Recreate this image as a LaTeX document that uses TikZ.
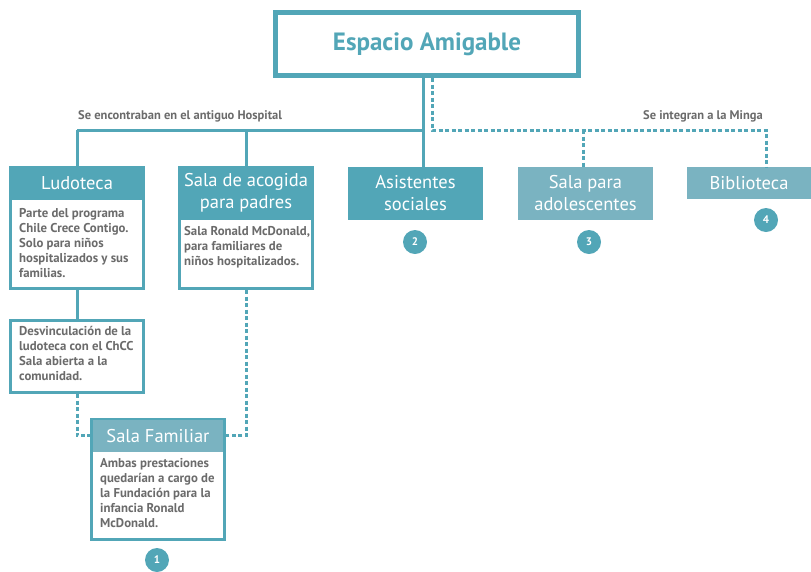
\documentclass[tikz,border=0pt]{standalone}
\usepackage{fontspec}
\setmainfont{PT Sans}
\definecolor{teal1}{HTML}{52A6B7}
\definecolor{teal2}{HTML}{7AB3C1}
\definecolor{txt}{HTML}{6B6B6B}
\begin{document}
\begin{tikzpicture}[x=1pt,y=-1pt,
  frame/.style={draw=teal1, line width=3pt, fill=white, inner sep=0pt},
  head/.style={fill=#1, text=white, inner sep=0pt, align=center, font=\fontsize{18.5}{22}\selectfont},
  body/.style={text=txt, align=left, inner sep=0pt, anchor=north west, font=\bfseries\fontsize{12.8}{15}\selectfont},
  num/.style={circle, fill=teal1, text=white, minimum size=24pt, inner sep=0pt, font=\bfseries\fontsize{11}{11}\selectfont},
  conn/.style={draw=teal1, line width=3pt},
  dconn/.style={conn, dash pattern=on 4pt off 2.5pt},
  lbl/.style={text=txt, inner sep=0pt, font=\bfseries\fontsize{12.5}{14}\selectfont}]
\useasboundingbox (0,0) rectangle (811,571);

% title
\node[frame, line width=5pt, minimum width=303pt, minimum height=63pt, text=teal1,
      font=\bfseries\fontsize{25}{29}\selectfont] (title) at (427,44) {Espacio Amigable};

% junction coordinates
\coordinate (js) at (423,130);
\coordinate (jd) at (432,130);
\coordinate (jm) at (583,130);

% Ludoteca
\node[frame, minimum width=133pt, minimum height=121pt] (ludf) at (77,228) {};
\node[head=teal1, minimum width=136pt, minimum height=34pt] (lud) at (77,183) {Ludoteca};
\node[body] (ludb) at (19,208.5) {Parte del programa\\Chile Crece Contigo.\\Solo para niños\\hospitalizados y sus\\familias.};

% Sala de acogida
\node[frame, minimum width=133pt, minimum height=121pt] (acof) at (246,228) {};
\node[head=teal1, minimum width=136pt, minimum height=54pt] (aco) at (246,193) {Sala de acogida\\para padres};
\node[body] (acob) at (184,226.5) {Sala Ronald McDonald,\\para familiares de\\niños hospitalizados.};

% Asistentes sociales
\node[head=teal1, minimum width=135pt, minimum height=53pt] (asis) at (415.5,193.5) {Asistentes\\sociales};
% Sala para adolescentes
\node[head=teal2, minimum width=135pt, minimum height=53pt] (ado) at (585.5,193.5) {Sala para\\adolescentes};
% Biblioteca
\node[head=teal2, minimum width=124pt, minimum height=32pt] (bib) at (749,183) {Biblioteca};

% Desvinculacion
\node[frame, minimum width=133pt, minimum height=72pt] (desf) at (77,356.5) {};
\node[body] (desb) at (19,326.5) {Desvinculación de la\\ludoteca con el ChCC\\Sala abierta a la\\comunidad.};

% Sala Familiar
\node[frame, minimum width=133pt, minimum height=120pt] (famf) at (158,479.5) {};
\node[head=teal2, minimum width=130pt, minimum height=32.5pt] (fam) at (158,435.75) {Sala Familiar};
\node[body] (famb) at (100,458.5) {Ambas prestaciones\\quedarían a cargo de\\la Fundación para la\\infancia Ronald\\McDonald.};

% numbers
\node[num] (n1) at (157,560) {1};
\node[num] (n2) at (415,242) {2};
\node[num] (n3) at (589,242) {3};
\node[num] (n4) at (766,220) {4};

% labels
\node[lbl, anchor=west] (l1) at (78,116) {Se encontraban en el antiguo Hospital};
\node[lbl, anchor=east] (l2) at (763,116) {Se integran a la Minga};

% solid connectors
\draw[conn] (title.south -| js) -- (asis.north -| js);
\draw[conn] (ludf.north |- js) -- (js);
\draw[conn] (ludf.north |- js) -- (ludf.north);
\draw[conn] (acof.north |- js) -- (acof.north);
\draw[conn] (ludf.south) -- (desf.north);

% dashed connectors
\coordinate (jb) at (766,130);
\draw[dconn] (title.south -| jd) -- (jd) -- (jb) -- (bib.north -| jb);
\draw[dconn] (jm) -- (ado.north -| jm);
\draw[dconn] (desf.south) -- (desf.south |- fam.west) -- (fam.west -| famf.west);
\draw[dconn] (acof.south) -- (acof.south |- fam.east) -- (fam.east -| famf.east);
\end{tikzpicture}
\end{document}
